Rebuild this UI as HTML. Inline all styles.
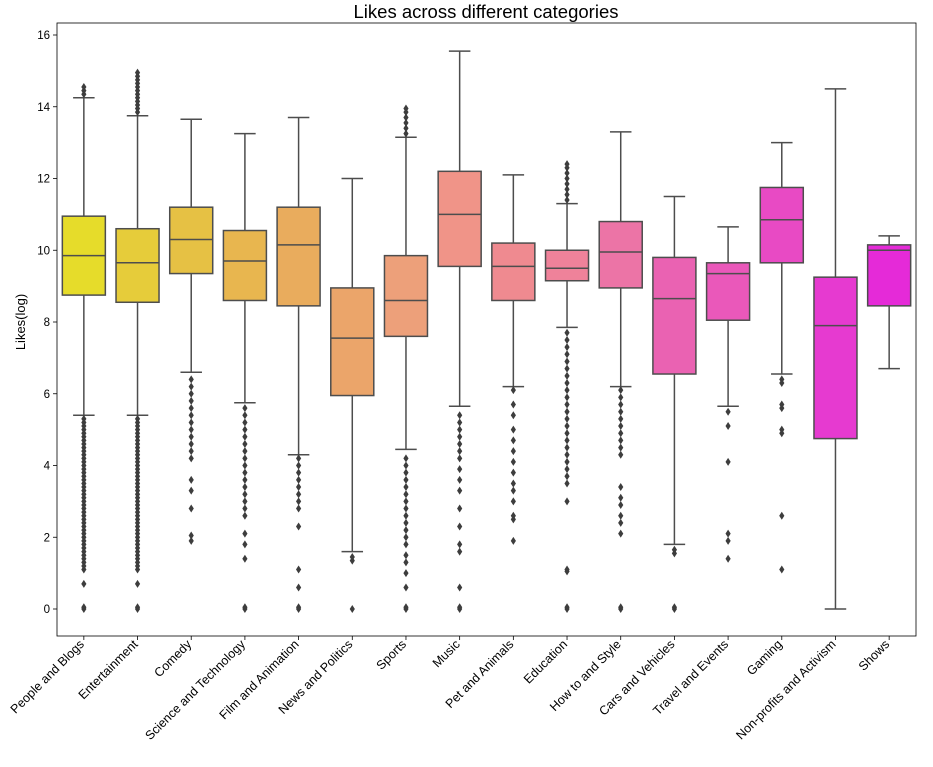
<!DOCTYPE html>
<html><head><meta charset="utf-8"><style>
body{margin:0;background:#fff;}
svg text{font-family:"Liberation Sans",sans-serif;}
</style></head><body>
<svg id="chart" width="933" height="762" xmlns="http://www.w3.org/2000/svg">
<rect x="0" y="0" width="933" height="762" fill="#fff"/>
<text x="486" y="18" font-size="18.5" text-anchor="middle" fill="#000">Likes across different categories</text>
<text transform="translate(25,322) rotate(-90)" font-size="13" text-anchor="middle" fill="#000">Likes(log)</text>
<g id="plot"></g>
<rect x="57" y="23" width="859" height="613" fill="none" stroke="#000" stroke-width="0.8"/>
</svg>
<script>
const categories=["People and Blogs","Entertainment","Comedy","Science and Technology","Film and Animation","News and Politics","Sports","Music","Pet and Animals","Education","How to and Style","Cars and Vehicles","Travel and Events","Gaming","Non-profits and Activism","Shows"];
const whiskerLow=[5.4,5.4,6.6,5.75,4.3,1.6,4.45,5.65,6.2,7.85,6.2,1.8,5.65,6.55,0,6.7];
const q1=[8.75,8.55,9.35,8.6,8.45,5.95,7.6,9.55,8.6,9.15,8.95,6.55,8.05,9.65,4.75,8.45];
const median=[9.85,9.65,10.3,9.7,10.15,7.55,8.6,11.0,9.55,9.5,9.95,8.65,9.35,10.85,7.9,10.0];
const q3=[10.95,10.6,11.2,10.55,11.2,8.95,9.85,12.2,10.2,10.0,10.8,9.8,9.65,11.75,9.25,10.15];
const whiskerHigh=[14.25,13.75,13.65,13.25,13.7,12.0,13.15,15.55,12.1,11.3,13.3,11.5,10.65,13.0,14.5,10.4];
const outliers=[
[0,0.05,0.7,1.1,1.2,1.3,1.4,1.5,1.6,1.7,1.8,1.9,2.0,2.1,2.2,2.3,2.4,2.5,2.6,2.7,2.8,2.9,3.0,3.1,3.2,3.3,3.4,3.5,3.6,3.7,3.8,3.9,4.0,4.1,4.2,4.3,4.4,4.5,4.6,4.7,4.8,4.9,5.0,5.1,5.2,5.3,14.35,14.45,14.55],
[0,0.05,0.7,1.1,1.2,1.3,1.4,1.5,1.6,1.7,1.8,1.9,2.0,2.1,2.2,2.3,2.4,2.5,2.6,2.7,2.8,2.9,3.0,3.1,3.2,3.3,3.4,3.5,3.6,3.7,3.8,3.9,4.0,4.1,4.2,4.3,4.4,4.5,4.6,4.7,4.8,4.9,5.0,5.1,5.2,5.3,13.85,13.95,14.05,14.15,14.25,14.35,14.45,14.55,14.65,14.75,14.85,14.95],
[1.9,2.05,2.8,3.3,3.6,4.2,4.4,4.6,4.8,5.0,5.2,5.4,5.6,5.8,6.0,6.2,6.4],
[0,0.05,1.4,1.8,2.1,2.6,2.8,3.0,3.2,3.4,3.6,3.8,4.0,4.2,4.4,4.6,4.8,5.0,5.2,5.4,5.6],
[0,0.05,0.6,1.1,2.3,2.8,3.0,3.2,3.4,3.6,3.8,4.0,4.2],
[0,1.35,1.45],
[0,0.05,0.6,1.0,1.3,1.5,1.8,2.0,2.2,2.4,2.6,2.8,3.0,3.2,3.4,3.6,3.8,4.0,4.2,13.25,13.4,13.55,13.7,13.85,13.95],
[0,0.05,0.6,1.6,1.8,2.3,2.8,3.3,3.6,3.9,4.2,4.4,4.6,4.8,5.0,5.2,5.4],
[1.9,2.5,2.6,3.0,3.3,3.5,3.8,4.1,4.4,4.7,5.0,5.4,5.7,6.1],
[0,0.05,1.05,1.1,3.0,3.5,3.7,3.9,4.1,4.3,4.5,4.7,4.9,5.1,5.3,5.5,5.7,5.9,6.1,6.3,6.5,6.7,6.9,7.1,7.3,7.5,7.7,11.4,11.55,11.7,11.85,12.0,12.15,12.3,12.4],
[0,0.05,2.1,2.4,2.6,2.9,3.1,3.4,4.3,4.5,4.7,4.9,5.1,5.3,5.5,5.7,5.9,6.1],
[0,0.05,1.55,1.65],
[1.4,1.9,2.1,4.1,5.1,5.5],
[1.1,2.6,4.9,5.0,5.6,5.7,6.3,6.4],
[],
[]
];
const colors=["#e6dc2a","#e6cc3a","#e6c144","#e8b64f","#e9ac5d","#eba56a","#eda07a","#f09488","#ef8a90","#ef829a","#ec74a6","#ea62b2","#ea58ba","#e84ac4","#e63ad0","#e52ad8"];
const yTicks=[0,2,4,6,8,10,12,14,16];
const X0=57,W=859,Y0=609,PX=35.875;
const y=v=>Y0-v*PX;
const xc=i=>X0+(i+0.5)*W/categories.length;
const NS="http://www.w3.org/2000/svg";
const g=document.getElementById('plot');
function mk(t,a,p){const e=document.createElementNS(NS,t);for(const k in a)e.setAttribute(k,a[k]);(p||g).appendChild(e);return e;}
yTicks.forEach(t=>{
 const l=mk('line',{x1:53,x2:57,y1:y(t),y2:y(t),stroke:'#000','stroke-width':0.8});
 
 
 const tx=mk('text',{x:50,y:y(t)+4,'font-size':11.5,'text-anchor':'end',fill:'#000'});
 tx.textContent=t;
 
 
});
const bw=43;
categories.forEach((c,i)=>{
 const cx=xc(i);
 const grp=mk('g',{});
 
 
 const st={stroke:'#4d4d4d','stroke-width':1.5};
 mk('line',Object.assign({x1:cx,x2:cx,y1:y(whiskerLow[i]),y2:y(q1[i])},st),grp);
 mk('line',Object.assign({x1:cx,x2:cx,y1:y(q3[i]),y2:y(whiskerHigh[i])},st),grp);
 mk('line',Object.assign({x1:cx-bw/4,x2:cx+bw/4,y1:y(whiskerLow[i]),y2:y(whiskerLow[i])},st),grp);
 mk('line',Object.assign({x1:cx-bw/4,x2:cx+bw/4,y1:y(whiskerHigh[i]),y2:y(whiskerHigh[i])},st),grp);
 mk('rect',Object.assign({x:cx-bw/2,y:y(q3[i]),width:bw,height:y(q1[i])-y(q3[i]),fill:colors[i]},st),grp);
 mk('line',Object.assign({x1:cx-bw/2,x2:cx+bw/2,y1:y(median[i]),y2:y(median[i])},st),grp);
 outliers[i].forEach(v=>{
  const yy=y(v);
  const d=mk('path',{d:`M${cx} ${yy-4}L${cx+2.6} ${yy}L${cx} ${yy+4}L${cx-2.6} ${yy}Z`,fill:'#3d3d3d'},grp);
  
  
 });
 const tk=mk('line',{x1:cx,x2:cx,y1:636,y2:640,stroke:'#000','stroke-width':0.8});
 
 
 const tx=mk('text',{transform:`translate(${cx+1},${645}) rotate(-45)`,'font-size':12.5,'text-anchor':'end',fill:'#000'});
 tx.textContent=c;
 
 
});
</script>
</body></html>
